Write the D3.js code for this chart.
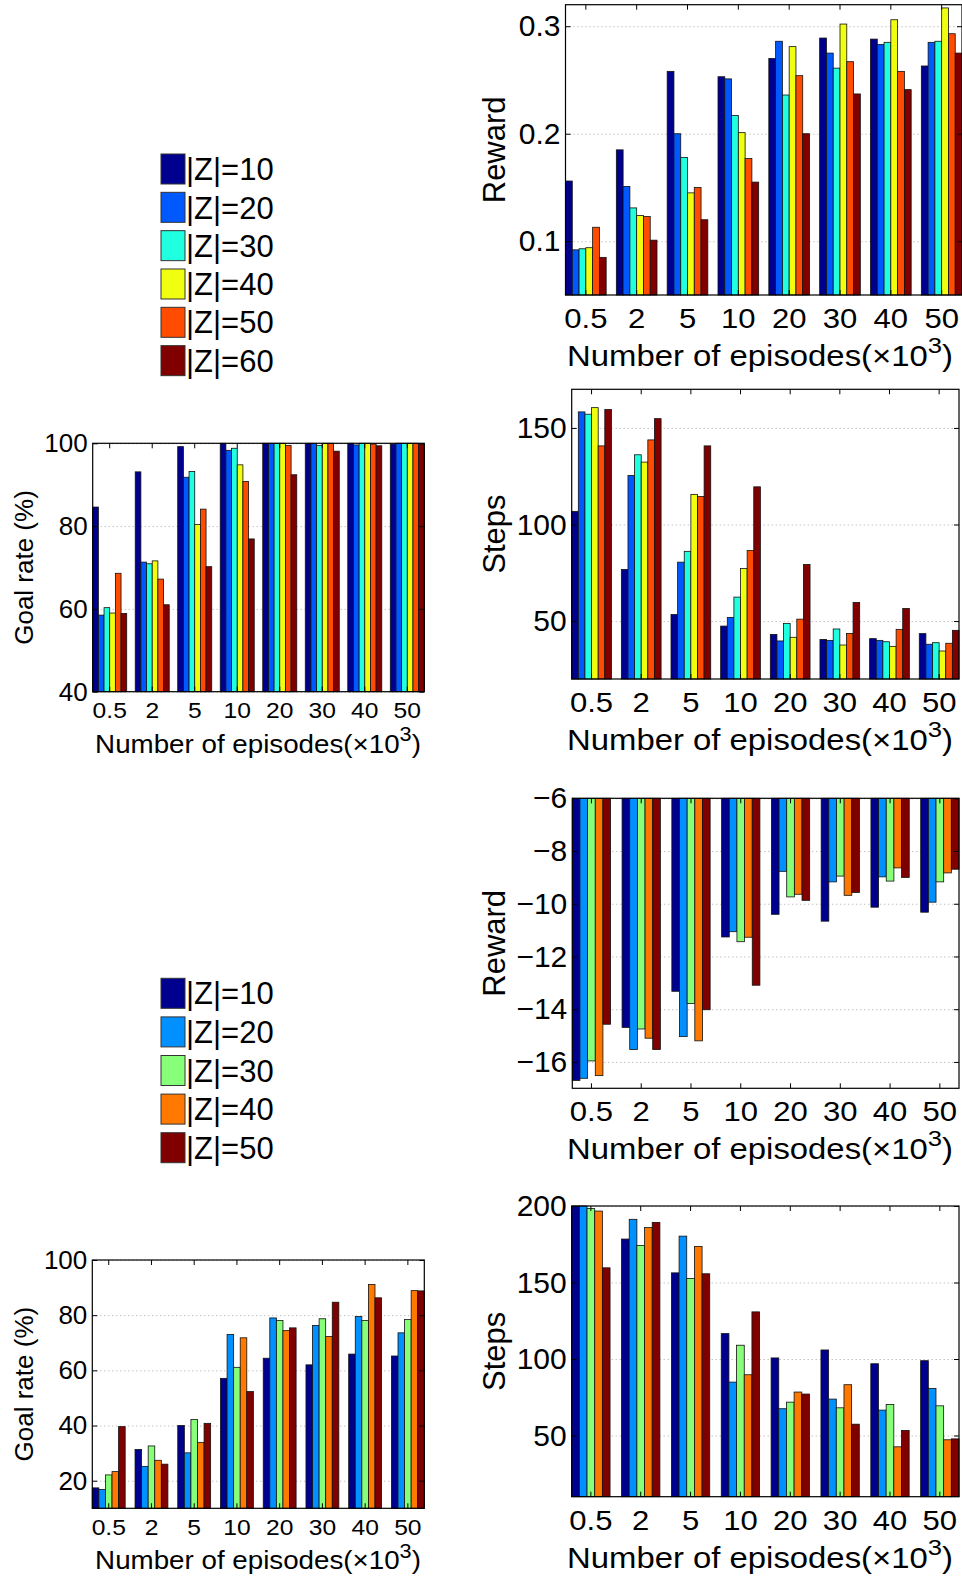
<!DOCTYPE html>
<html>
<head>
<meta charset="utf-8">
<script src="https://d3js.org/d3.v7.min.js"></script>
<style>
  body { margin: 0; background: #fff; }
  svg { display: block; font-family: "Liberation Sans", Arial, sans-serif; }
  .grid line { stroke: #a8a8a8; stroke-dasharray: 1,3; }
  .grid path, .ax path { display: none; }
  .ax line { stroke: #000; }
</style>
</head>
<body>
<svg width="962" height="1578"></svg>
<script>
var episodes = ["0.5", "2", "5", "10", "20", "30", "40", "50"];

var sizes6 = ["|Z|=10", "|Z|=20", "|Z|=30", "|Z|=40", "|Z|=50", "|Z|=60"];
var sizes5 = ["|Z|=10", "|Z|=20", "|Z|=30", "|Z|=40", "|Z|=50"];

var colors6 = ["#00008f", "#0058ff", "#20ffdf", "#f0ff10", "#ff4c00", "#800000"];
var colors5 = ["#00008f", "#0090ff", "#88ff78", "#ff7800", "#800000"];

// one row per episode count, one column per |Z|
var reward6 = [
  [0.156, 0.092, 0.093, 0.094, 0.113, 0.085],
  [0.185, 0.151, 0.131, 0.124, 0.123, 0.101],
  [0.258, 0.200, 0.178, 0.145, 0.150, 0.120],
  [0.253, 0.251, 0.217, 0.201, 0.177, 0.155],
  [0.270, 0.286, 0.236, 0.281, 0.254, 0.200],
  [0.289, 0.275, 0.261, 0.302, 0.267, 0.237],
  [0.288, 0.283, 0.285, 0.306, 0.258, 0.241],
  [0.263, 0.285, 0.286, 0.317, 0.293, 0.275]
];
var steps6 = [
  [106.8, 158.3, 157.1, 160.5, 140.7, 159.5],
  [76.7, 125.4, 136.1, 132.3, 143.8, 154.8],
  [53.4, 80.5, 86.1, 115.6, 114.5, 140.7],
  [47.4, 51.9, 62.4, 77.2, 86.5, 119.5],
  [43.1, 39.7, 48.8, 41.6, 51.0, 79.3],
  [40.5, 40.0, 45.9, 37.6, 43.6, 59.6],
  [40.9, 40.0, 39.3, 36.9, 45.7, 56.5],
  [43.5, 38.0, 38.8, 34.5, 38.5, 45.2]
];
var goal6 = [
  [84.6, 58.5, 60.3, 59.0, 68.6, 58.9],
  [93.1, 71.3, 70.9, 71.6, 67.2, 61.0],
  [99.2, 91.8, 93.2, 80.4, 84.1, 70.2],
  [100, 98.3, 98.8, 94.8, 90.8, 76.9],
  [100, 100, 100, 100, 99.5, 92.4],
  [100, 100, 99.5, 100, 100, 98.1],
  [100, 99.6, 100, 100, 99.8, 99.4],
  [99.8, 100, 100, 100, 100, 99.8]
];
var reward5 = [
  [-16.70, -16.62, -15.96, -16.52, -14.57],
  [-14.69, -15.53, -14.75, -15.10, -15.53],
  [-13.32, -15.04, -13.78, -15.20, -14.02],
  [-11.26, -11.06, -11.44, -11.27, -13.09],
  [-10.40, -8.77, -9.74, -9.64, -9.87],
  [-10.66, -9.17, -8.95, -9.68, -9.57],
  [-10.13, -8.98, -9.14, -8.64, -9.00],
  [-10.32, -9.94, -9.17, -8.83, -8.69]
];
var steps5 = [
  [200, 200, 198.3, 196.7, 159.6],
  [178.4, 191.3, 174.2, 186.0, 189.3],
  [156.3, 180.3, 152.6, 173.6, 155.7],
  [116.6, 84.9, 109.0, 89.7, 130.8],
  [100.7, 67.5, 71.8, 78.4, 77.1],
  [105.9, 73.8, 68.1, 83.2, 57.4],
  [96.9, 66.6, 70.3, 42.6, 53.3],
  [98.9, 80.8, 69.4, 47.2, 47.8]
];
var goal5 = [
  [17.4, 16.8, 22.1, 23.3, 39.6],
  [31.3, 25.2, 32.6, 27.4, 26.0],
  [40.0, 30.1, 42.2, 33.9, 40.8],
  [57.1, 73.0, 61.1, 71.8, 52.3],
  [64.4, 79.0, 78.1, 74.4, 75.4],
  [62.0, 76.3, 78.7, 72.3, 84.7],
  [65.9, 79.5, 78.1, 91.1, 86.3],
  [65.2, 73.6, 78.4, 88.9, 88.8]
];

var svg = d3.select("svg");

// right column uses bigger text than the left one
var bigText = { yt: 30, xt: 27, xts: 1.15, xl: 29, xlw: 386, xlc: 760, yl: 31, ylx: 505, xpad: 14, xlOff: 71 };
var smallText = { yt: 26, xt: 22, xts: 1.12, xl: 26, xlw: 326, xlc: 258, yl: 26, ylx: 33, xpad: 11, xlOff: 61 };

function panel(o) {
  var t = o.text;
  var g = svg.append("g");
  var n = o.colors.length;
  var x = d3.scaleBand().domain(episodes).range([o.left, o.right])
    .paddingInner(1 - Math.min(0.8, n / (n + 1.5))).paddingOuter(0);
  var xs = d3.scaleBand().domain(d3.range(n)).range([0, x.bandwidth()]);
  var y = d3.scaleLinear().domain(o.dom).range([o.bottom, o.top]);
  var w = o.right - o.left;

  g.append("g").attr("class", "grid")
    .attr("transform", "translate(" + o.left + ",0)")
    .call(d3.axisLeft(y).tickValues(o.ticks).tickSize(-w).tickFormat(""));

  var base = y(Math.max(o.dom[0], Math.min(o.dom[1], 0)));
  g.append("g").selectAll("g")
    .data(o.data)
    .join("g")
    .attr("transform", function(d, i) { return "translate(" + x(episodes[i]) + ",0)"; })
    .selectAll("rect")
    .data(function(d) { return d; })
    .join("rect")
    .attr("x", function(d, j) { return xs(j); })
    .attr("width", xs.bandwidth())
    .attr("y", function(d) { return Math.min(base, y(d)); })
    .attr("height", function(d) { return Math.abs(y(d) - base); })
    .attr("fill", function(d, j) { return o.colors[j]; })
    .attr("stroke", "#111")
    .attr("stroke-width", 0.8);

  g.append("rect")
    .attr("x", o.left).attr("y", o.top)
    .attr("width", w).attr("height", o.bottom - o.top)
    .attr("fill", "none").attr("stroke", "#000").attr("stroke-width", 1.2);

  var xb = g.append("g").attr("class", "ax")
    .attr("transform", "translate(0," + o.bottom + ")")
    .call(d3.axisBottom(x).tickSize(-5).tickPadding(t.xpad))
    .attr("font-family", null).attr("font-size", t.xt);
  xb.selectAll("text")
    .attr("fill", "#000")
    .attr("transform", "scale(" + t.xts + ",1)");

  g.append("g").attr("class", "ax")
    .attr("transform", "translate(0," + o.top + ")")
    .call(d3.axisTop(x).tickSize(-5).tickFormat(""));

  var yl = g.append("g").attr("class", "ax")
    .attr("transform", "translate(" + o.left + ",0)")
    .call(d3.axisLeft(y).tickValues(o.ticks).tickSize(-5).tickPadding(5).tickFormat(d3.format(o.fmt)))
    .attr("font-family", null).attr("font-size", t.yt);
  yl.selectAll("text").attr("fill", "#000");

  g.append("g").attr("class", "ax")
    .attr("transform", "translate(" + o.right + ",0)")
    .call(d3.axisRight(y).tickValues(o.ticks).tickSize(-5).tickFormat(""));

  // x label with superscript, stretched to the measured width
  var xlab = g.append("text")
    .attr("font-size", t.xl)
    .attr("text-anchor", "middle");
  xlab.append("tspan").text("Number of episodes(\u00d710");
  xlab.append("tspan").attr("font-size", t.xl * 0.78).attr("dy", -0.45 * t.xl).text("3");
  xlab.append("tspan").attr("dy", 0.45 * t.xl).text(")");
  var nat = xlab.node().getComputedTextLength();
  xlab.attr("transform", "translate(" + t.xlc + "," + (o.bottom + t.xlOff) + ") scale(" + (t.xlw / nat) + ",1)");

  g.append("text")
    .attr("font-size", t.yl)
    .attr("text-anchor", "middle")
    .attr("transform", "translate(" + t.ylx + "," + ((o.top + o.bottom) / 2) + ") rotate(-90)")
    .text(o.ylabel);
}

function legend(names, colors, y0, step) {
  var lg = svg.append("g").selectAll("g")
    .data(names)
    .join("g")
    .attr("transform", function(d, i) { return "translate(161," + (y0 + i * step) + ")"; });
  lg.append("rect")
    .attr("x", 0).attr("y", -15).attr("width", 24).attr("height", 30)
    .attr("fill", function(d, i) { return colors[i]; })
    .attr("stroke", "#333").attr("stroke-width", 1);
  lg.append("text")
    .attr("x", 25).attr("dy", "0.36em")
    .attr("font-size", 31)
    .text(function(d) { return d; });
}

legend(sizes6, colors6, 169, 38.33);
legend(sizes5, colors5, 993.3, 38.6);

panel({ data: reward6, colors: colors6, left: 565.5, right: 962, top: 4.7, bottom: 295,
  dom: [0.05, 0.32], ticks: [0.1, 0.2, 0.3], fmt: ".1f", ylabel: "Reward", text: bigText });
panel({ data: steps6, colors: colors6, left: 571.7, right: 959, top: 389.3, bottom: 679,
  dom: [20, 170], ticks: [50, 100, 150], fmt: "d", ylabel: "Steps", text: bigText });
panel({ data: goal6, colors: colors6, left: 92.7, right: 424.3, top: 443.3, bottom: 691.7,
  dom: [40, 100], ticks: [40, 60, 80, 100], fmt: "d", ylabel: "Goal rate (%)", text: smallText });
panel({ data: reward5, colors: colors5, left: 572.3, right: 959, top: 798.3, bottom: 1088.3,
  dom: [-17, -6], ticks: [-16, -14, -12, -10, -8, -6], fmt: "d", ylabel: "Reward", text: bigText });
panel({ data: steps5, colors: colors5, left: 571.7, right: 959, top: 1206, bottom: 1496.7,
  dom: [10, 200], ticks: [50, 100, 150, 200], fmt: "d", ylabel: "Steps", text: bigText });
panel({ data: goal5, colors: colors5, left: 92.3, right: 424.3, top: 1260, bottom: 1508.3,
  dom: [10, 100], ticks: [20, 40, 60, 80, 100], fmt: "d", ylabel: "Goal rate (%)", text: smallText });
</script>
</body>
</html>
